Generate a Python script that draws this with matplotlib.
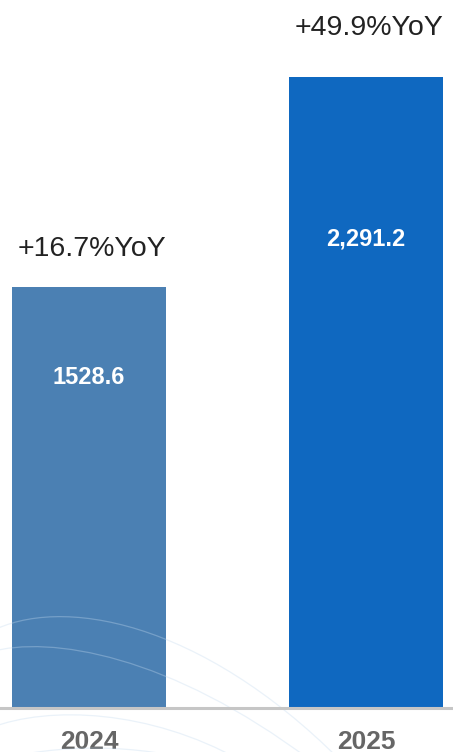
import matplotlib
matplotlib.use("Agg")
import matplotlib.pyplot as plt
from matplotlib.path import Path
from matplotlib.patches import PathPatch
from matplotlib.lines import Line2D

plt.rcParams["font.family"] = ["Liberation Sans", "DejaVu Sans"]

# data
years = ["2024", "2025"]
values = [1528.6, 2291.2]
value_labels = ["1528.6", "2,291.2"]
yoy_labels = ["+16.7%YoY", "+49.9%YoY"]

bar_colors = ["#4b80b3", "#0f68c0"]
# offsets (px) of text relative to bar tops
yoy_pad = [31, 42]
value_pad = [91, 162]

W, H = 453, 752
fig = plt.figure(figsize=(W / 100, H / 100), dpi=100)
base_px = 706.5
ax = fig.add_axes([0, (H - base_px) / H, 1, base_px / H])

px_per_unit = 419.8 / 1528.6
ax.set_xlim(-89 / 277, 1 + 87 / 277)
ax.set_ylim(0, base_px / px_per_unit)

x = list(range(len(years)))
ax.bar(x, values, width=154 / 277, color=bar_colors, zorder=2)

for i, v in enumerate(values):
    ax.annotate(yoy_labels[i], (x[i], v), xytext=(2, yoy_pad[i] * 0.72),
                textcoords="offset points", ha="center", va="baseline",
                fontsize=20.5, color="#222222")
    ax.annotate(value_labels[i], (x[i], v), xytext=(0, -value_pad[i] * 0.72),
                textcoords="offset points", ha="center", va="center",
                fontsize=17, color="white", fontweight="bold")

ax.set_xticks(x)
ax.set_xticklabels(years, fontsize=19, fontweight="bold", color="#666666")
ax.tick_params(axis="x", length=0, pad=17)
ax.set_yticks([])
for s in ax.spines.values():
    s.set_visible(False)

# baseline
fig.add_artist(Line2D([0, 1], [(H - 707.8) / H] * 2, transform=fig.transFigure,
                      color="#c6c6c6", linewidth=2.2))

# faint decorative curves
curves = [
    [(-10, 632), (60, 595), (200, 620), (340, 760)],
    [(-10, 652), (50, 635), (170, 655), (310, 760)],
    [(-10, 728), (50, 705), (150, 710), (240, 760)],
    [(-10, 762), (60, 742), (140, 745), (200, 762)],
]
for pts in curves:
    verts = [(px / W, (H - py) / H) for px, py in pts]
    path = Path(verts, [Path.MOVETO, Path.CURVE4, Path.CURVE4, Path.CURVE4])
    fig.add_artist(PathPatch(path, transform=fig.transFigure, facecolor="none",
                             edgecolor="#c4daef", linewidth=0.9, alpha=0.35))

fig.savefig("out.png", dpi=100)
